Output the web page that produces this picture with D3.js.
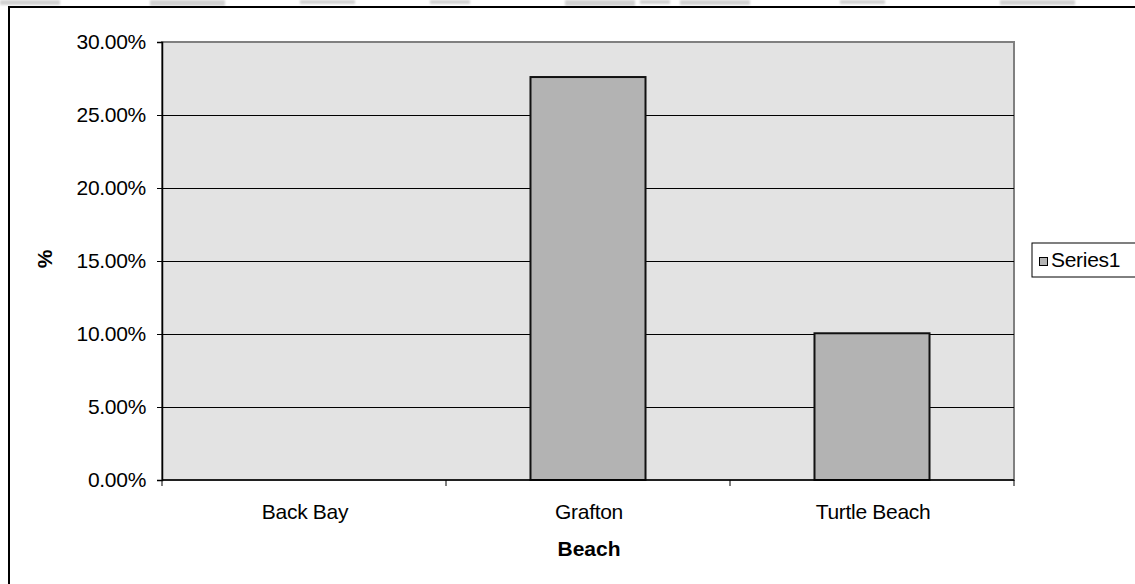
<!DOCTYPE html>
<html>
<head>
<meta charset="utf-8">
<script src="https://cdn.jsdelivr.net/npm/d3@7"></script>
<style>
  html, body { margin: 0; padding: 0; background: #fff; }
  svg { display: block; font-family: "Liberation Sans", Arial, sans-serif; }
</style>
</head>
<body>
<svg id="chart" width="1135" height="584"></svg>
<script>
// Share of samples per beach
const categories = ["Back Bay", "Grafton", "Turtle Beach"];
const values = [0, 0.276, 0.1005];
const yTicks = [0, 0.05, 0.10, 0.15, 0.20, 0.25, 0.30];
const seriesName = "Series1";

const svg = d3.select("#chart");
const plot = { left: 162, top: 42, right: 1014, bottom: 480 };
const fontSize = 21;

// faint band along the top edge
const defs = svg.append("defs");
defs.append("filter").attr("id", "soft").append("feGaussianBlur").attr("stdDeviation", 1);
const haze = [[0,0,60,5],[150,0,75,6],[300,0,55,4],[430,0,40,4],[565,0,70,6],[640,0,30,4],[680,0,70,5],[840,0,45,4],[1000,0,75,5]];
svg.append("g").attr("fill", "#d2d2d2").attr("filter", "url(#soft)")
  .selectAll("rect").data(haze).join("rect")
  .attr("x", d => d[0]).attr("y", d => d[1]).attr("width", d => d[2]).attr("height", d => d[3]);

// outer chart frame (continues past the right and bottom edges)
svg.append("rect").attr("x", 9).attr("y", 7).attr("width", 1140).attr("height", 600)
  .attr("fill", "none").attr("stroke", "#000").attr("stroke-width", 2);

const x = d3.scaleBand().domain(categories).range([plot.left, plot.right]).paddingInner(0).paddingOuter(0);
const y = d3.scaleLinear().domain([0, 0.30]).range([plot.bottom, plot.top]);

// plot background
svg.append("rect").attr("x", plot.left).attr("y", plot.top)
  .attr("width", plot.right - plot.left).attr("height", plot.bottom - plot.top)
  .attr("fill", "#e3e3e3").attr("stroke", "#808080").attr("stroke-width", 2);

// horizontal gridlines
svg.append("g").selectAll("line").data(yTicks.filter(t => t > 0 && t < 0.30)).join("line")
  .attr("x1", plot.left).attr("x2", plot.right)
  .attr("y1", d => Math.round(y(d)) + 0.5).attr("y2", d => Math.round(y(d)) + 0.5)
  .attr("stroke", "#000").attr("stroke-width", 1.2);

// bars
const barW = x.bandwidth() * 0.405;
svg.append("g").selectAll("rect").data(categories.map((c, i) => ({ c, v: values[i] })).filter(d => d.v > 0))
  .join("rect")
  .attr("x", d => x(d.c) + (x.bandwidth() - barW) / 2)
  .attr("y", d => y(d.v))
  .attr("width", barW)
  .attr("height", d => y(0) - y(d.v))
  .attr("fill", "#b3b3b3").attr("stroke", "#111").attr("stroke-width", 2);

// y axis
const yAxis = d3.axisLeft(y).tickValues(yTicks).tickSize(5).tickPadding(11)
  .tickFormat(d => (d * 100).toFixed(2) + "%");
const gy = svg.append("g").attr("transform", `translate(${plot.left},0)`).call(yAxis);
gy.select(".domain").attr("stroke", "#000").attr("stroke-width", 1.5);
gy.selectAll(".tick line").attr("stroke", "#000");
gy.selectAll(".tick text").attr("font-size", fontSize).attr("fill", "#000")
  .attr("letter-spacing", -0.3)
  .attr("font-family", "Liberation Sans, Arial, sans-serif");

// x axis with ticks on category boundaries
const gx = svg.append("g").attr("transform", `translate(0,${plot.bottom})`);
gx.append("line").attr("x1", plot.left).attr("x2", plot.right).attr("y1", 0).attr("y2", 0)
  .attr("stroke", "#000").attr("stroke-width", 1.5);
const bounds = categories.map(c => x(c)).concat([x.range()[1]]);
gx.selectAll("line.tk").data(bounds).join("line").attr("class", "tk")
  .attr("x1", d => d).attr("x2", d => d).attr("y1", 0).attr("y2", 6)
  .attr("stroke", "#000");
gx.selectAll("text").data(categories).join("text")
  .attr("x", d => x(d) + x.bandwidth() / 2 + 1).attr("y", 39)
  .attr("text-anchor", "middle").attr("font-size", fontSize).attr("fill", "#000")
  .attr("letter-spacing", -0.3)
  .text(d => d);

// axis titles
svg.append("text").attr("x", (plot.left + plot.right) / 2 + 1).attr("y", 556)
  .attr("text-anchor", "middle").attr("font-size", fontSize).attr("font-weight", "bold").text("Beach");
svg.append("text").attr("transform", `translate(52,${(plot.top + plot.bottom) / 2 - 2}) rotate(-90)`)
  .attr("text-anchor", "middle").attr("font-size", fontSize).attr("font-weight", "bold").text("%");

// legend
const lg = svg.append("g").attr("transform", "translate(1032,243)");
lg.append("rect").attr("x", 0).attr("y", 0).attr("width", 110).attr("height", 34)
  .attr("fill", "#fff").attr("stroke", "#000").attr("stroke-width", 1);
lg.append("rect").attr("x", 7.5).attr("y", 14.5).attr("width", 8).attr("height", 8)
  .attr("fill", "#b3b3b3").attr("stroke", "#000").attr("stroke-width", 1);
lg.append("text").attr("x", 19).attr("y", 23.5).attr("font-size", fontSize)
  .attr("letter-spacing", -0.3).text(seriesName);
</script>
</body>
</html>
